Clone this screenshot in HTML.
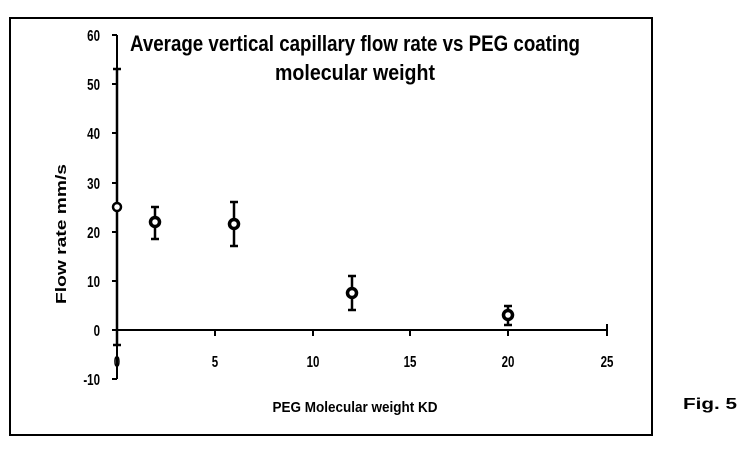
<!DOCTYPE html>
<html><head><meta charset="utf-8"><style>
body{margin:0;background:#fff;width:747px;height:450px;overflow:hidden}
</style></head><body>
<svg width="747" height="450" xmlns="http://www.w3.org/2000/svg" font-family="'Liberation Sans',sans-serif" font-weight="bold">
<rect x="10" y="18" width="642" height="417" fill="none" stroke="#000" stroke-width="2"/>
<text x="355" y="51" font-size="22" text-anchor="middle" textLength="450" lengthAdjust="spacingAndGlyphs">Average vertical capillary flow rate vs PEG coating</text>
<text x="355" y="80" font-size="22" text-anchor="middle" textLength="160" lengthAdjust="spacingAndGlyphs">molecular weight</text>
<g stroke="#000" stroke-width="2">
<line x1="117" y1="35" x2="117" y2="379"/>
<line x1="117" y1="330" x2="607" y2="330"/>
<line x1="112" y1="35" x2="117" y2="35"/><line x1="112" y1="84" x2="117" y2="84"/><line x1="112" y1="133" x2="117" y2="133"/><line x1="112" y1="183" x2="117" y2="183"/><line x1="112" y1="232" x2="117" y2="232"/><line x1="112" y1="281" x2="117" y2="281"/><line x1="112" y1="330" x2="117" y2="330"/><line x1="112" y1="379" x2="117" y2="379"/>
<line x1="215" y1="330" x2="215" y2="336"/><line x1="313" y1="330" x2="313" y2="336"/><line x1="410" y1="330" x2="410" y2="336"/><line x1="508" y1="330" x2="508" y2="336"/><line x1="607" y1="324" x2="607" y2="336"/>
</g>
<g font-size="16" text-anchor="end">
<g transform="translate(100,0) scale(0.72,1)">
<text x="0" y="41">60</text><text x="0" y="90">50</text><text x="0" y="139">40</text><text x="0" y="189">30</text><text x="0" y="238">20</text><text x="0" y="287">10</text><text x="0" y="336">0</text><text x="0" y="385">-10</text>
</g></g>
<g font-size="16" text-anchor="middle">
<text transform="translate(117,367) scale(0.72,1)">0</text>
<text transform="translate(215,367) scale(0.72,1)">5</text>
<text transform="translate(313,367) scale(0.72,1)">10</text>
<text transform="translate(410,367) scale(0.72,1)">15</text>
<text transform="translate(508,367) scale(0.72,1)">20</text>
<text transform="translate(607,367) scale(0.72,1)">25</text>
</g>
<text x="355" y="412" font-size="15" text-anchor="middle" textLength="165" lengthAdjust="spacingAndGlyphs">PEG Molecular weight KD</text>
<text transform="translate(66,234) rotate(-90)" font-size="15" text-anchor="middle" textLength="140" lengthAdjust="spacingAndGlyphs">Flow rate mm/s</text>
<text x="683" y="409" font-size="16" textLength="54" lengthAdjust="spacingAndGlyphs">Fig. 5</text>
<g stroke="#000" stroke-width="2.5" fill="#fff">
<line x1="117" y1="69" x2="117" y2="345"/><line x1="113" y1="69" x2="121" y2="69"/><line x1="113" y1="345" x2="121" y2="345"/>
<circle cx="117" cy="207" r="4"/>
<line x1="155" y1="239" x2="155" y2="207"/><line x1="151" y1="239" x2="159" y2="239"/><line x1="151" y1="207" x2="159" y2="207"/>
<circle cx="155" cy="222" r="4.5" stroke-width="3.5"/>
<line x1="234" y1="246" x2="234" y2="202"/><line x1="230" y1="246" x2="238" y2="246"/><line x1="230" y1="202" x2="238" y2="202"/>
<circle cx="234" cy="224" r="4.5" stroke-width="3.5"/>
<line x1="352" y1="310" x2="352" y2="276"/><line x1="348" y1="310" x2="356" y2="310"/><line x1="348" y1="276" x2="356" y2="276"/>
<circle cx="352" cy="293" r="4.5" stroke-width="3.5"/>
<line x1="508" y1="325" x2="508" y2="306"/><line x1="504" y1="325" x2="512" y2="325"/><line x1="504" y1="306" x2="512" y2="306"/>
<circle cx="508" cy="315" r="4.5" stroke-width="3.5"/>
</g>
</svg>
</body></html>
